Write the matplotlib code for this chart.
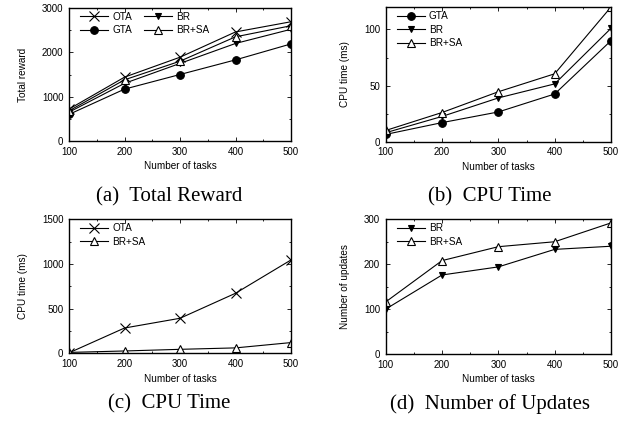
import matplotlib
matplotlib.use("Agg")
import matplotlib.pyplot as plt
from matplotlib.ticker import MultipleLocator

tasks = [100, 200, 300, 400, 500]

# (a) Total reward
reward_ota = [720, 1440, 1890, 2460, 2690]
reward_gta = [600, 1170, 1500, 1830, 2190]
reward_br = [650, 1300, 1750, 2200, 2520]
reward_brsa = [680, 1380, 1800, 2350, 2600]

# (b) CPU time (ms)
cpu_gta = [6.5, 17, 26.5, 42.5, 90]
cpu_br = [8, 22.5, 39, 51.5, 101]
cpu_brsa = [10, 26, 44.5, 60.5, 120]

# (c) CPU time (ms)
cpu_ota = [5, 283, 392, 672, 1045]
cpu_brsa_c = [10, 26, 44.5, 60.5, 120]

# (d) Number of updates
upd_br = [100, 176, 194, 233, 240]
upd_brsa = [116, 208, 239, 250, 292]

captions = ["(a)  Total Reward", "(b)  CPU Time", "(c)  CPU Time", "(d)  Number of Updates"]

W, H = 621, 429
fig = plt.figure(figsize=(W / 100, H / 100), dpi=100)

sans = ["Liberation Sans", "DejaVu Sans"]
serif = ["Liberation Serif", "DejaVu Serif"]
fs_tick = 7.0
fs_lab = 7.2

def ax_at(left, top, right, bottom):
    return fig.add_axes([left / W, 1 - bottom / H, (right - left) / W, (bottom - top) / H])

styles = {
    "OTA": dict(marker="x", ms=6.5, mfc="none", mew=0.8),
    "GTA": dict(marker="o", ms=5.5, mfc="black", mew=0.8),
    "BR": dict(marker="v", ms=5, mfc="black", mew=0.8),
    "BR+SA": dict(marker="^", ms=5.5, mfc="white", mew=0.8),
}

def plot(ax, y, name):
    ax.plot(tasks, y, color="black", lw=0.8, label=name, mec="black", **styles[name])

def style(ax, ylim, ymajor, yminor, ylabel):
    ax.set_xlim(100, 500)
    ax.set_ylim(*ylim)
    ax.xaxis.set_major_locator(MultipleLocator(100))
    ax.xaxis.set_minor_locator(MultipleLocator(50))
    ax.yaxis.set_major_locator(MultipleLocator(ymajor))
    ax.yaxis.set_minor_locator(MultipleLocator(yminor))
    ax.tick_params(which="both", direction="in", top=True, right=True, labelsize=fs_tick, width=0.6)
    ax.tick_params(axis="x", pad=4.0)
    ax.tick_params(axis="y", pad=4.0)
    ax.tick_params(which="major", length=3)
    ax.tick_params(which="minor", length=1.5)
    for lab in ax.get_xticklabels() + ax.get_yticklabels():
        lab.set_family(sans)
    for s in ax.spines.values():
        s.set_linewidth(1.0)
    ax.set_xlabel("Number of tasks", fontsize=fs_lab, family=sans, labelpad=3.5)
    ax.set_ylabel(ylabel, fontsize=fs_lab, family=sans, labelpad=10)

def legend(ax, ncol, anchor):
    leg = ax.legend(ncol=ncol, loc="upper left", bbox_to_anchor=anchor, frameon=False,
                    prop={"family": sans, "size": fs_lab}, handlelength=2.8, handletextpad=0.4,
                    labelspacing=0.35, columnspacing=1.2, borderaxespad=0, borderpad=0)
    return leg

# (a)
ax = ax_at(69, 8, 291, 141)
plot(ax, reward_ota, "OTA")
plot(ax, reward_gta, "GTA")
plot(ax, reward_br, "BR")
plot(ax, reward_brsa, "BR+SA")
style(ax, (0, 3000), 1000, 500, "Total reward")
legend(ax, 2, (0.05, 0.97))

# (b)
ax = ax_at(385.7, 7, 611, 141.7)
plot(ax, cpu_gta, "GTA")
plot(ax, cpu_br, "BR")
plot(ax, cpu_brsa, "BR+SA")
style(ax, (0, 120), 50, 25, "CPU time (ms)")
legend(ax, 1, (0.05, 0.97))

# (c)
ax = ax_at(69, 219.3, 291, 353.3)
plot(ax, cpu_ota, "OTA")
plot(ax, cpu_brsa_c, "BR+SA")
style(ax, (0, 1500), 500, 250, "CPU time (ms)")
legend(ax, 1, (0.05, 0.97))

# (d)
ax = ax_at(385.7, 219.3, 611, 354)
plot(ax, upd_br, "BR")
plot(ax, upd_brsa, "BR+SA")
style(ax, (0, 300), 100, 50, "Number of updates")
legend(ax, 1, (0.05, 0.97))

cap_pos = [(169, 197), (490, 197), (169, 404), (490, 404)]
for (x, y), t in zip(cap_pos, captions):
    fig.text(x / W, 1 - y / H, t, ha="center", va="center", fontsize=15, family=serif)

fig.savefig("out.png", dpi=100)
